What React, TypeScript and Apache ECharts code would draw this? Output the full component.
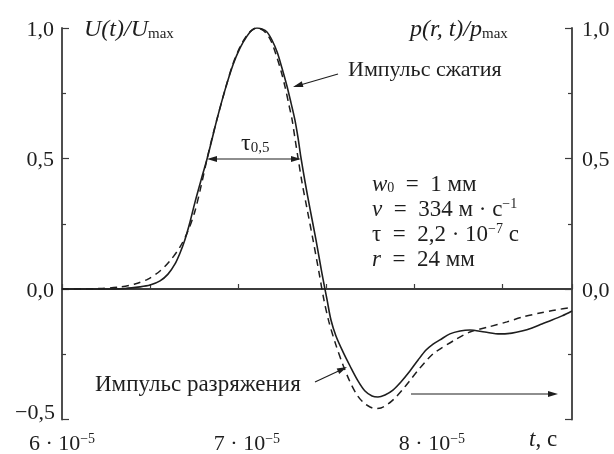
import React, { useEffect, useRef } from "react";
import * as echarts from "echarts";

// time in units of 1e-5 s
const solidT = [6.0, 6.205, 6.341, 6.422, 6.476, 6.53, 6.573, 6.611, 6.638, 6.664, 6.692, 6.719, 6.752, 6.784, 6.81, 6.838, 6.881, 6.924, 6.962, 7.0, 7.027, 7.054, 7.081, 7.108, 7.135, 7.163, 7.189, 7.216, 7.238, 7.259, 7.276, 7.292, 7.314, 7.34, 7.373, 7.405, 7.433, 7.454, 7.481, 7.519, 7.557, 7.6, 7.638, 7.676, 7.708, 7.746, 7.789, 7.832, 7.881, 7.925, 7.968, 8.006, 8.043, 8.097, 8.152, 8.205, 8.286, 8.367, 8.432, 8.486, 8.541, 8.594, 8.649, 8.703, 8.757];
const solidV = [0.0, 0.0, 0.002, 0.008, 0.015, 0.031, 0.057, 0.096, 0.138, 0.188, 0.257, 0.333, 0.418, 0.498, 0.571, 0.651, 0.762, 0.858, 0.923, 0.969, 0.992, 1.0, 0.996, 0.985, 0.954, 0.908, 0.847, 0.778, 0.713, 0.648, 0.579, 0.502, 0.41, 0.31, 0.188, 0.061, -0.042, -0.119, -0.18, -0.241, -0.295, -0.352, -0.391, -0.41, -0.414, -0.406, -0.387, -0.356, -0.314, -0.272, -0.234, -0.211, -0.195, -0.172, -0.161, -0.157, -0.165, -0.172, -0.169, -0.161, -0.149, -0.134, -0.119, -0.103, -0.084];

const dashT = [6.0, 6.205, 6.313, 6.394, 6.465, 6.53, 6.583, 6.638, 6.681, 6.719, 6.752, 6.784, 6.81, 6.838, 6.881, 6.924, 6.962, 7.0, 7.027, 7.049, 7.075, 7.103, 7.13, 7.156, 7.184, 7.206, 7.227, 7.244, 7.259, 7.276, 7.297, 7.324, 7.357, 7.39, 7.416, 7.443, 7.481, 7.519, 7.557, 7.595, 7.632, 7.665, 7.692, 7.724, 7.762, 7.8, 7.844, 7.887, 7.93, 7.973, 8.011, 8.043, 8.124, 8.205, 8.303, 8.405, 8.492, 8.584, 8.67, 8.757];
const dashV = [0.0, 0.002, 0.008, 0.019, 0.038, 0.069, 0.107, 0.161, 0.222, 0.299, 0.395, 0.498, 0.575, 0.651, 0.762, 0.862, 0.927, 0.973, 0.992, 1.0, 0.996, 0.981, 0.95, 0.9, 0.835, 0.774, 0.705, 0.648, 0.579, 0.502, 0.41, 0.31, 0.188, 0.061, -0.042, -0.126, -0.215, -0.291, -0.356, -0.406, -0.437, -0.452, -0.458, -0.456, -0.441, -0.418, -0.383, -0.345, -0.307, -0.272, -0.245, -0.23, -0.195, -0.165, -0.146, -0.126, -0.107, -0.092, -0.08, -0.071];

const X_MIN = 6;
const X_MAX = 8.757;
const Y_MIN = -0.5;
const Y_MAX = 1.0;
const TICK_AXIS_MAX = 5.795;

const FONT = "Liberation Serif";
const INK = "#1e1e1e";
const AXIS = "#3c3c3c";

function fmtY(v: number): string {
  return v.toFixed(1).replace(".", ",").replace("-", "\u2212");
}

function head(x1: number, y1: number, x2: number, y2: number, len = 10, w = 3) {
  const dx = x2 - x1;
  const dy = y2 - y1;
  const d = Math.sqrt(dx * dx + dy * dy);
  const ux = dx / d;
  const uy = dy / d;
  const bx = x2 - ux * len;
  const by = y2 - uy * len;
  return {
    type: "polygon",
    shape: { points: [[x2, y2], [bx - uy * w, by + ux * w], [bx + uy * w, by - ux * w]] },
    style: { fill: INK },
    silent: true,
  };
}

function seg(x1: number, y1: number, x2: number, y2: number) {
  return {
    type: "line",
    shape: { x1, y1, x2, y2 },
    style: { stroke: INK, lineWidth: 1.2 },
    silent: true,
  };
}

const rich: any = {
  n: { fontFamily: FONT, fontSize: 22, fill: INK },
  m: { fontFamily: FONT, fontSize: 23, fill: INK },
  i: { fontFamily: FONT, fontSize: 23, fontStyle: "italic", fill: INK },
  I: { fontFamily: FONT, fontSize: 24, fontStyle: "italic", fill: INK },
  T: { fontFamily: FONT, fontSize: 24, fill: INK },
  b: { fontFamily: FONT, fontSize: 14, fill: INK, verticalAlign: "bottom" },
  B: { fontFamily: FONT, fontSize: 15, fill: INK, verticalAlign: "bottom" },
  p: { fontFamily: FONT, fontSize: 14, fill: INK, verticalAlign: "top" },
};

function txt(x: number, y: number, text: string, align = "left", size = 22) {
  return {
    type: "text",
    x,
    y,
    silent: true,
    style: {
      text,
      textAlign: align,
      textVerticalAlign: "middle",
      rich,
      fontFamily: FONT,
      fontSize: size,
      fill: INK,
    },
  };
}

const SP = "\u2002";

export default function App() {
  const ref = useRef<HTMLDivElement>(null);
  useEffect(() => {
    if (!ref.current) return;
    const chart = echarts.init(ref.current, undefined, { renderer: "svg" });
    const option: any = {
      animation: false,
      grid: { left: 62, right: 42, top: 28, bottom: 34.5 },
      xAxis: [
        {
          type: "value",
          min: X_MIN,
          max: X_MAX,
          interval: 1,
          position: "bottom",
          axisLine: { show: false },
          axisTick: { show: false },
          splitLine: { show: false },
          axisLabel: {
            margin: 12,
            color: INK,
            fontFamily: FONT,
            fontSize: 22,
            formatter: (v: number) =>
              Math.abs(v - Math.round(v)) > 1e-6 ? "" : `{n|${Math.round(v)} · 10}{p|\u22125}`,
            rich: {
              n: { fontFamily: FONT, fontSize: 22, color: INK },
              p: { fontFamily: FONT, fontSize: 14, color: INK, verticalAlign: "top" },
            },
          },
        },
        {
          type: "value",
          min: 0,
          max: TICK_AXIS_MAX,
          interval: 1,
          position: "bottom",
          axisLine: { show: true, lineStyle: { color: AXIS, width: 1.8 } },
          axisTick: { show: true, inside: true, length: 5, lineStyle: { color: AXIS, width: 1.2 } },
          axisLabel: { show: false },
          splitLine: { show: false },
        },
      ],
      yAxis: [
        {
          type: "value",
          position: "left",
          min: Y_MIN,
          max: Y_MAX,
          interval: 0.5,
          axisLine: { show: true, lineStyle: { color: AXIS, width: 1.8 } },
          axisTick: { show: true, inside: true, length: 7, lineStyle: { color: AXIS, width: 1.2 } },
          minorTick: { show: true, splitNumber: 2, length: 4, lineStyle: { color: AXIS, width: 1.2 } },
          splitLine: { show: false },
          axisLabel: {
            margin: 8,
            formatter: (v: number) => (v <= Y_MIN + 1e-9 ? "" : fmtY(v)),
            fontFamily: FONT,
            fontSize: 22,
            color: INK,
          },
        },
        {
          type: "value",
          position: "right",
          min: Y_MIN,
          max: Y_MAX,
          interval: 0.5,
          axisLine: { show: true, lineStyle: { color: AXIS, width: 1.8 } },
          axisTick: { show: true, inside: true, length: 7, lineStyle: { color: AXIS, width: 1.2 } },
          minorTick: { show: true, splitNumber: 2, length: 4, lineStyle: { color: AXIS, width: 1.2 } },
          splitLine: { show: false },
          axisLabel: {
            margin: 10,
            formatter: (v: number) => (v <= Y_MIN + 1e-9 ? "" : fmtY(v)),
            fontFamily: FONT,
            fontSize: 22,
            color: INK,
          },
        },
      ],
      series: [
        {
          type: "line",
          xAxisIndex: 0,
          yAxisIndex: 0,
          data: solidT.map((t, i) => [t, solidV[i]]),
          showSymbol: false,
          smooth: 0.3,
          lineStyle: { color: INK, width: 1.6 },
        },
        {
          type: "line",
          xAxisIndex: 0,
          yAxisIndex: 0,
          data: dashT.map((t, i) => [t, dashV[i]]),
          showSymbol: false,
          smooth: 0.3,
          lineStyle: { color: INK, width: 1.5, type: [7, 5] },
        },
      ],
      graphic: [
        txt(84, 28, "{I|U(t)/U}{B|max}"),
        txt(410, 28, "{I|p(r, t)/p}{B|max}"),
        txt(348, 68, "Импульс сжатия"),
        seg(338, 74, 295, 86.5),
        head(338, 74, 293, 87),
        txt(95, 383, "Импульс разряжения", "left", 23),
        seg(315, 382, 345, 368),
        head(315, 382, 347, 367),
        seg(411, 394, 550, 394),
        head(411, 394, 558, 394),
        seg(215, 159, 293, 159),
        head(301, 159, 207, 159),
        head(207, 159, 301, 159),
        txt(241, 142, "{T|τ}{B|0,5}"),
        txt(372, 183, `{i|w}{b|0}{m|${SP}=${SP}1 мм}`),
        txt(372, 208, `{i|v}{m|${SP}=${SP}334 м · с}{p|\u22121}`),
        txt(372, 233, `{m|τ${SP}=${SP}2,2 · 10}{p|\u22127}{m| с}`),
        txt(372, 258, `{i|r}{m|${SP}=${SP}24 мм}`),
        txt(55, 411, "\u22120,5", "right"),
        txt(529, 438, "{i|t}{m|, с}"),
      ],
    };
    chart.setOption(option);
    return () => chart.dispose();
  }, []);
  return <div ref={ref} style={{ position: "fixed", left: 0, top: 0, width: 614, height: 454 }} />;
}
